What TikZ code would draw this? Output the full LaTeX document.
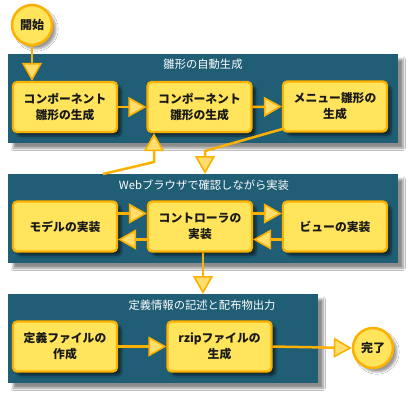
\documentclass[tikz,border=0pt]{standalone}
\usepackage{fontspec}
\setmainfont{Noto Sans CJK JP}
\usetikzlibrary{arrows.meta,shadows.blur,calc}
\definecolor{panelc}{RGB}{31,94,117}
\definecolor{boxfill}{RGB}{255,228,92}
\definecolor{bord}{RGB}{252,176,0}
\definecolor{tipfill}{RGB}{255,222,110}
\definecolor{txt}{RGB}{25,25,25}
\tikzset{
  panel/.style={fill=panelc, draw=none, anchor=north west, inner sep=0pt,
    blur shadow={shadow xshift=5pt, shadow yshift=-5pt, shadow blur steps=8, shadow opacity=45}},
  ptitle/.style={text=white, font=\fontsize{11.3}{13}\selectfont, inner sep=1pt},
  stepbox/.style={fill=boxfill, draw=bord, line width=2.2pt, rounded corners=4pt,
    minimum width=104pt, minimum height=50pt, align=center, text=txt, inner sep=1pt,
    font=\bfseries\fontsize{11.8}{16}\selectfont,
    blur shadow={shadow xshift=4pt, shadow yshift=-4pt, shadow blur steps=6, shadow opacity=55}},
  term/.style={circle, fill=boxfill, draw=bord, line width=2.5pt, minimum size=40pt,
    inner sep=0pt, text=txt, font=\bfseries\fontsize{12}{14}\selectfont,
    blur shadow={shadow xshift=4pt, shadow yshift=-4pt, shadow blur steps=6, shadow opacity=40}},
  conn/.style={draw=bord, line width=2.5pt,
    -{Triangle[length=18pt,width=20pt,fill=tipfill,line width=1.6pt]}},
}
\begin{document}
\begin{tikzpicture}[x=1pt,y=-1pt]
\useasboundingbox (0,0) rectangle (410,400);
\fill[white] (0,0) rectangle (410,400);

% panels
\node[panel, minimum width=390pt, minimum height=89pt] (p1) at (8,54) {};
\node[panel, minimum width=390pt, minimum height=89pt] (p2) at (8,174) {};
\node[panel, minimum width=310pt, minimum height=89pt] (p3) at (8,294) {};

\node[ptitle] (t1) at (203,64) {雛形の自動生成};
\node[ptitle] (t2) at (204,185) {Webブラウザで確認しながら実装};
\node[ptitle] (t3) at (202,305) {定義情報の記述と配布物出力};

% boxes
\node[stepbox] (A) at (65,107) {コンポーネント\\雛形の生成};
\node[stepbox] (B) at (199.5,107) {コンポーネント\\雛形の生成};
\node[stepbox] (C) at (335,106.5) {メニュー雛形の\\生成};
\node[stepbox] (D) at (65,226.5) {モデルの実装};
\node[stepbox] (E) at (200,226.5) {コントローラの\\実装};
\node[stepbox] (F) at (335,226.5) {ビューの実装};
\node[stepbox] (G) at (65,346.5) {定義ファイルの\\作成};
\node[stepbox] (H) at (219.5,346.5) {rzipファイルの\\生成};

\node[term] (start) at (32,25) {開始};
\node[term] (end) at (373,348) {完了};

% connectors
\draw[conn] (start.south) -- (start.south |- A.north);
\draw[conn] (A.east) -- (B.west);
\draw[conn] (B.east) -- (C.west);

\coordinate (c1) at (205,151);
\draw[conn] ([xshift=2pt,yshift=4pt]C.south west) -- (c1) -- (c1 |- p2.north);

\coordinate (c3) at (103,174);
\coordinate (c2) at (154,162);
\draw[conn] (c3) -- (c2) -- (c2 |- B.south);

\draw[conn] ([yshift=13pt]D.east) -- ([yshift=13pt]E.west);
\draw[conn] ([yshift=-13pt]E.west) -- ([yshift=-13pt]D.east);
\draw[conn] ([yshift=13pt]E.east) -- ([yshift=13pt]F.west);
\draw[conn] ([yshift=-13pt]F.west) -- ([yshift=-13pt]E.east);

\draw[conn] ([xshift=3pt]E.south) -- ([xshift=3pt]E.south |- p3.north);

\draw[conn] (G.east) -- (H.west);
\draw[conn] (H.east) -- (end.west);
\end{tikzpicture}
\end{document}
